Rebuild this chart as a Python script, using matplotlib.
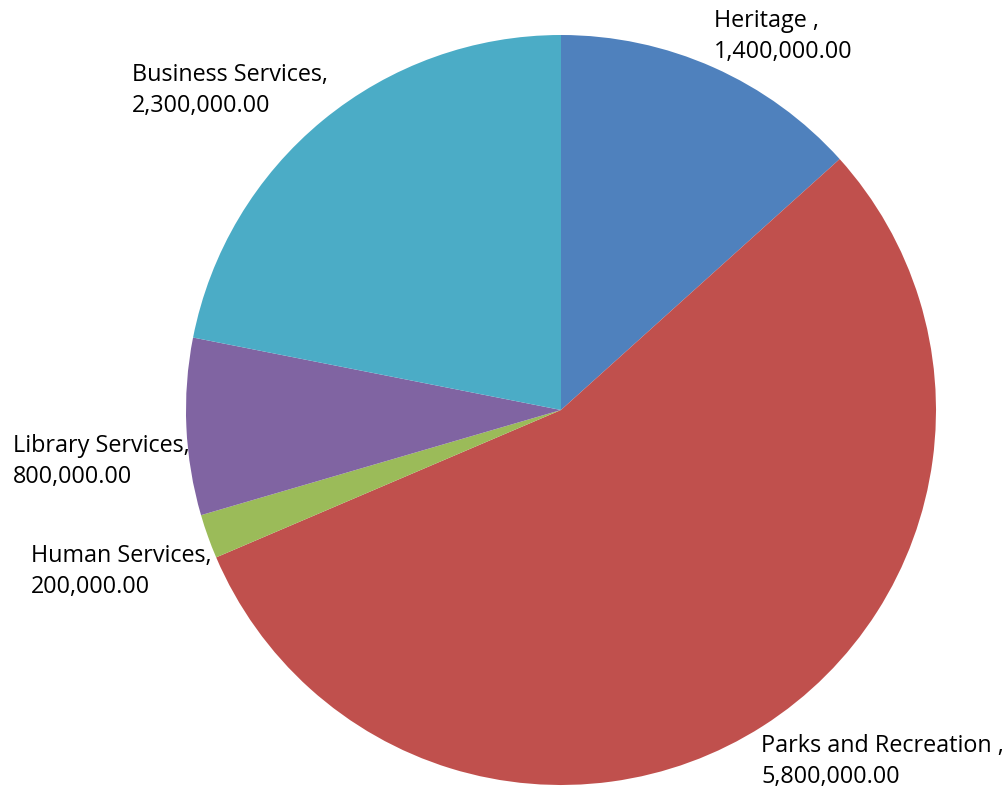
import matplotlib.pyplot as plt

categories = ["Heritage ", "Parks and Recreation ", "Human Services", "Library Services", "Business Services"]
values = [1400000, 5800000, 200000, 800000, 2300000]
colors = ["#4F81BD", "#C0504D", "#9BBB59", "#8064A2", "#4BACC6"]

# label anchor spots (pixels from top-left) as placed in the original
label_px = [(714, 9), (761, 734), (31, 544), (13, 434), (132, 63)]

plt.rcParams['font.family'] = ['Open Sans', 'DejaVu Sans']

fig = plt.figure(figsize=(10.05, 7.9), dpi=100)
ax = fig.add_axes([186 / 1005, 5 / 790, 750 / 1005, 750 / 790])
ax.pie(values, colors=colors, startangle=90, counterclock=False, radius=1,
       wedgeprops=dict(linewidth=0))
ax.set_xlim(-1, 1)
ax.set_ylim(-1, 1)
ax.set_aspect('equal')
ax.axis('off')

for name, val, (px, py) in zip(categories, values, label_px):
    fig.text(px / 1005, 1 - py / 790, f"{name},\n{val:,.2f}",
             ha='left', va='top', fontsize=16.8, color='black', linespacing=1.4)

fig.savefig("out.png", dpi=100, facecolor='white')
